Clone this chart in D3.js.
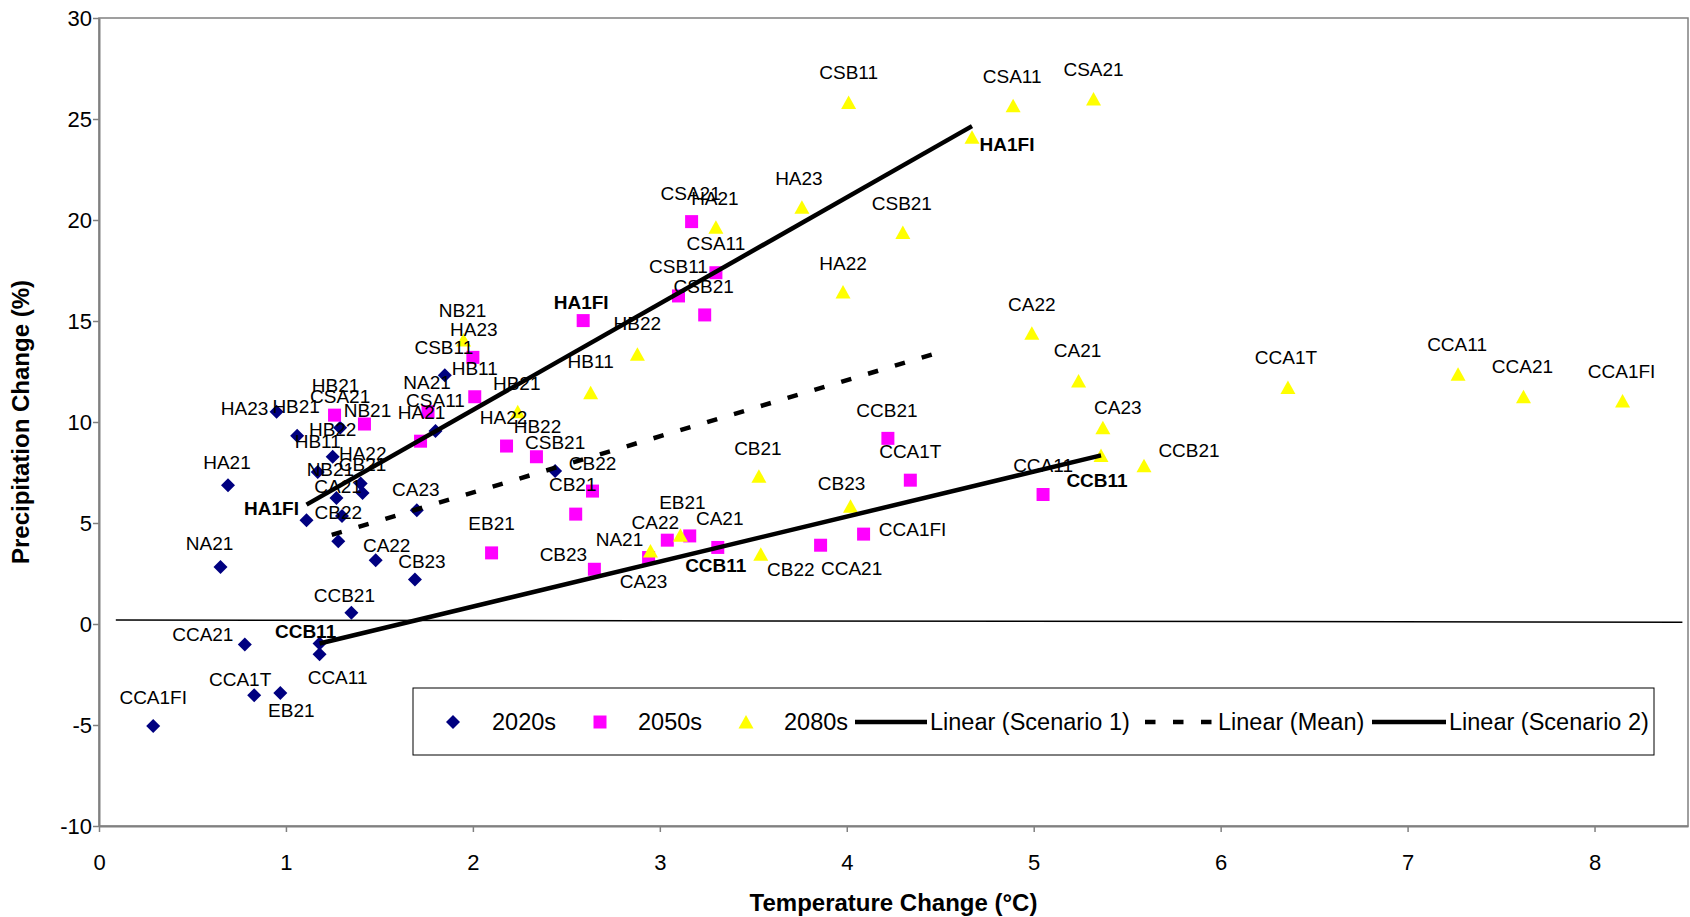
<!DOCTYPE html>
<html>
<head>
<meta charset="utf-8">
<script src="https://cdn.jsdelivr.net/npm/d3@7"></script>
<style>
  body { margin: 0; background: #fff; }
  svg { display: block; }
  text { font-family: "Liberation Sans", Arial, sans-serif; }
</style>
</head>
<body>
<svg id="chart" width="1690" height="917"></svg>
<script>
// scenario names, same order in every period
const names = ["HA1FI","HA21","HA22","HA23","HB11","HB21","HB22","NA21","NB21","CA21","CA22","CA23","CB21",
  "CB22","CB23","CSA11","CSA21","CSB11","CSB21","CCA11","CCA21","CCA1T","CCA1FI","CCB11","CCB21","EB21"]

const temp2020 = [1.11,0.69,1.40,0.95,1.17,1.06,1.25,0.65,1.27,1.30,1.48,1.70,1.41,1.28,1.69,1.80,1.29,1.85,2.44,1.18,0.78,0.83,0.29,1.18,1.35,0.97]
const precip2020 = [5.14,6.87,6.96,10.51,7.53,9.32,8.28,2.82,6.24,5.35,3.16,5.63,6.49,4.10,2.20,9.56,9.71,12.31,7.57,-1.50,-1.02,-3.53,-5.05,-0.97,0.56,-3.42]

const temp2050 = [2.59,1.72,2.18,2.00,2.01,1.26,2.34,1.76,1.42,3.16,3.04,2.94,2.55,2.64,2.65,3.30,3.17,3.10,3.24,5.05,3.86,4.34,4.09,3.31,4.22,2.10]
const precip2050 = [15.02,9.05,8.81,13.20,11.25,10.34,8.28,10.51,9.90,4.36,4.15,3.29,5.44,6.58,2.71,17.39,19.92,16.24,15.30,6.41,3.90,7.12,4.45,3.79,9.19,3.52]

const temp2080 = [4.67,3.30,3.98,3.76,2.63,2.24,2.88,2.95,1.95,5.24,4.99,5.37,3.53,3.54,4.02,4.89,5.32,4.01,4.30,7.27,7.62,6.36,8.15,5.36,5.59,3.11]
const precip2080 = [24.10,19.64,16.43,20.63,11.45,10.51,13.35,3.62,14.06,12.03,14.39,9.71,7.32,3.45,5.83,25.65,25.99,25.82,19.38,12.37,11.25,11.71,11.04,8.34,7.83,4.39]

// thin reference line near zero
const zeroLineTemp = [0.09, 8.47]
const zeroLinePrecip = [0.2, 0.09]

const xTicks = [0,1,2,3,4,5,6,7,8]
const yTicks = [-10,-5,0,5,10,15,20,25,30]

// label placement (px, label centre relative to marker)
const offsets2020 = [[-35,-12],[-1,-23],[2,-30],[-32,-3],[0,-30],[-1,-29],[0,-27],[-11,-24],[-6,-28],[-4,-29],[11,-15],[-1,-21],[0,-28],
  [0,-29],[7,-18],[0,-30],[0,-31],[-1,-28],[0,-29],[18,23],[-42,-10],[-14,-16],[0,-29],[-14,-12],[-7,-17],[11,17]]
const offsets2050 = [[-2,-18],[1,-29],[-3,-29],[1,-28],[0,-28],[1,-30],[1,-30],[-1,-29],[3,-14],[30,-17],[-12,-18],[-5,24],[-3,-30],
  [0,-28],[-31,-15],[0,-29],[-1,-28],[0,-29],[-1,-28],[0,-29],[31,23],[0,-29],[49,-5],[-2,18],[-1,-28],[0,-29]]
const offsets2080 = [[35,7],[-1,-29],[0,-29],[-3,-29],[0,-31],[-1,-28],[0,-31],[-31,-11],[-1,-29],[-1,-30],[0,-29],[15,-20],[-1,-28],
  [30,15],[-9,-23],[-1,-29],[0,-30],[0,-30],[-1,-29],[-1,-30],[-1,-30],[-2,-30],[-1,-29],[-4,25],[45,-15],[2,-33]]

const boldNames = ["HA1FI", "CCB11"]

const svg = d3.select("#chart")
const x = d3.scaleLinear().domain([0, 8.5]).range([99, 1688])
const y = d3.scaleLinear().domain([-10, 30]).range([826, 18])

const shapes = {
  diamond: "M0,-7L7,0L0,7L-7,0Z",
  square: "M-6.5,-6.5H6.5V6.5H-6.5Z",
  triangle: "M0,-7L7.5,6.5H-7.5Z"
}

const series = [
  { key: "2020s", temps: temp2020, precips: precip2020, offsets: offsets2020, shape: "diamond", color: "#000080" },
  { key: "2050s", temps: temp2050, precips: precip2050, offsets: offsets2050, shape: "square", color: "#ff00ff" },
  { key: "2080s", temps: temp2080, precips: precip2080, offsets: offsets2080, shape: "triangle", color: "#ffff00" }
]

// plot area border
svg.append("rect")
  .attr("x", x(0)).attr("y", y(30))
  .attr("width", x(8.5) - x(0)).attr("height", y(-10) - y(30))
  .attr("fill", "none").attr("stroke", "#808080").attr("stroke-width", 1.5)

const xAxis = svg.append("g")
  .attr("transform", `translate(0,${y(-10)})`)
  .call(d3.axisBottom(x).tickValues(xTicks).tickSize(6).tickSizeOuter(0).tickPadding(22))
const yAxis = svg.append("g")
  .attr("transform", `translate(${x(0)},0)`)
  .call(d3.axisLeft(y).tickValues(yTicks).tickFormat(d => String(d)).tickSize(6).tickSizeOuter(0).tickPadding(1))

for (const g of [xAxis, yAxis]) {
  g.select(".domain").attr("stroke", "#808080").attr("stroke-width", 2)
  g.selectAll(".tick line").attr("stroke", "#808080").attr("stroke-width", 1.5)
  g.selectAll(".tick text").attr("fill", "#000").style("font-size", "22px")
}

const line = d3.line().x(d => x(d[0])).y(d => y(d[1]))

svg.append("path")
  .attr("d", line(zeroLineTemp.map((t, i) => [t, zeroLinePrecip[i]])))
  .attr("stroke", "#000").attr("stroke-width", 1.5).attr("fill", "none")

// markers
series.forEach(s => {
  svg.append("g").selectAll("path")
    .data(names.map((n, i) => ({ n, t: s.temps[i], p: s.precips[i] })))
    .join("path")
      .attr("d", shapes[s.shape])
      .attr("transform", d => `translate(${x(d.t)},${y(d.p)})`)
      .attr("fill", s.color)
})

// least squares trend lines, drawn across the x range of their points
function trend(xs, ys) {
  const mx = d3.mean(xs), my = d3.mean(ys)
  const b = d3.sum(xs, (v, i) => (v - mx) * (ys[i] - my)) / d3.sum(xs, v => (v - mx) * (v - mx))
  const a = my - b * mx
  const x0 = d3.min(xs), x1 = d3.max(xs)
  return [[x0, a + b * x0], [x1, a + b * x1]]
}
const pick = name => {
  const i = names.indexOf(name)
  return [series.map(s => s.temps[i]), series.map(s => s.precips[i])]
}
const scen1 = pick("HA1FI")
const scen2 = pick("CCB11")
const meanT = series.map(s => d3.mean(s.temps))
const meanP = series.map(s => d3.mean(s.precips))

svg.append("path").attr("d", line(trend(scen1[0], scen1[1])))
  .attr("stroke", "#000").attr("stroke-width", 4.5).attr("fill", "none")
svg.append("path").attr("d", line(trend(meanT, meanP)))
  .attr("stroke", "#000").attr("stroke-width", 4.5).attr("fill", "none").attr("stroke-dasharray", "10.5,17.5")
svg.append("path").attr("d", line(trend(scen2[0], scen2[1])))
  .attr("stroke", "#000").attr("stroke-width", 4.5).attr("fill", "none")

// data labels
series.forEach(s => {
  svg.append("g").selectAll("text")
    .data(names.map((n, i) => ({ n, t: s.temps[i], p: s.precips[i], o: s.offsets[i] })))
    .join("text")
      .attr("x", d => x(d.t) + d.o[0])
      .attr("y", d => y(d.p) + d.o[1])
      .attr("text-anchor", "middle")
      .attr("dominant-baseline", "central")
      .style("font-size", "19px")
      .style("font-weight", d => boldNames.includes(d.n) ? "bold" : "normal")
      .text(d => d.n)
})

// axis titles
svg.append("text")
  .attr("x", (x(0) + x(8.5)) / 2).attr("y", 902)
  .attr("text-anchor", "middle").attr("dominant-baseline", "central")
  .style("font-size", "24px").style("font-weight", "bold")
  .text("Temperature Change (°C)")
svg.append("text")
  .attr("transform", `translate(20,${(y(30) + y(-10)) / 2}) rotate(-90)`)
  .attr("text-anchor", "middle").attr("dominant-baseline", "central")
  .style("font-size", "24px").style("font-weight", "bold")
  .text("Precipitation Change (%)")

// legend
const legend = svg.append("g")
legend.append("rect")
  .attr("x", 413).attr("y", 688).attr("width", 1241).attr("height", 67)
  .attr("fill", "#fff").attr("stroke", "#000").attr("stroke-width", 1)
const ly = 722
const legendItems = [
  { label: "2020s", shape: "diamond", color: "#000080", sx: 453, tx: 492 },
  { label: "2050s", shape: "square", color: "#ff00ff", sx: 600, tx: 638 },
  { label: "2080s", shape: "triangle", color: "#ffff00", sx: 746, tx: 784 },
  { label: "Linear (Scenario 1)", line: "", sx: 855, tx: 930 },
  { label: "Linear (Mean)", line: "10.5,17.5", sx: 1145, tx: 1218 },
  { label: "Linear (Scenario 2)", line: "", sx: 1372, tx: 1449 }
]
legendItems.forEach(it => {
  if (it.shape) {
    legend.append("path").attr("d", shapes[it.shape])
      .attr("transform", `translate(${it.sx},${ly})`).attr("fill", it.color)
  } else {
    legend.append("line")
      .attr("x1", it.sx).attr("x2", it.tx - 3).attr("y1", ly).attr("y2", ly)
      .attr("stroke", "#000").attr("stroke-width", 4.5).attr("stroke-dasharray", it.line || null)
  }
  legend.append("text").attr("x", it.tx).attr("y", ly)
    .attr("dominant-baseline", "central").style("font-size", "23.5px")
    .text(it.label)
})
</script>
</body>
</html>
